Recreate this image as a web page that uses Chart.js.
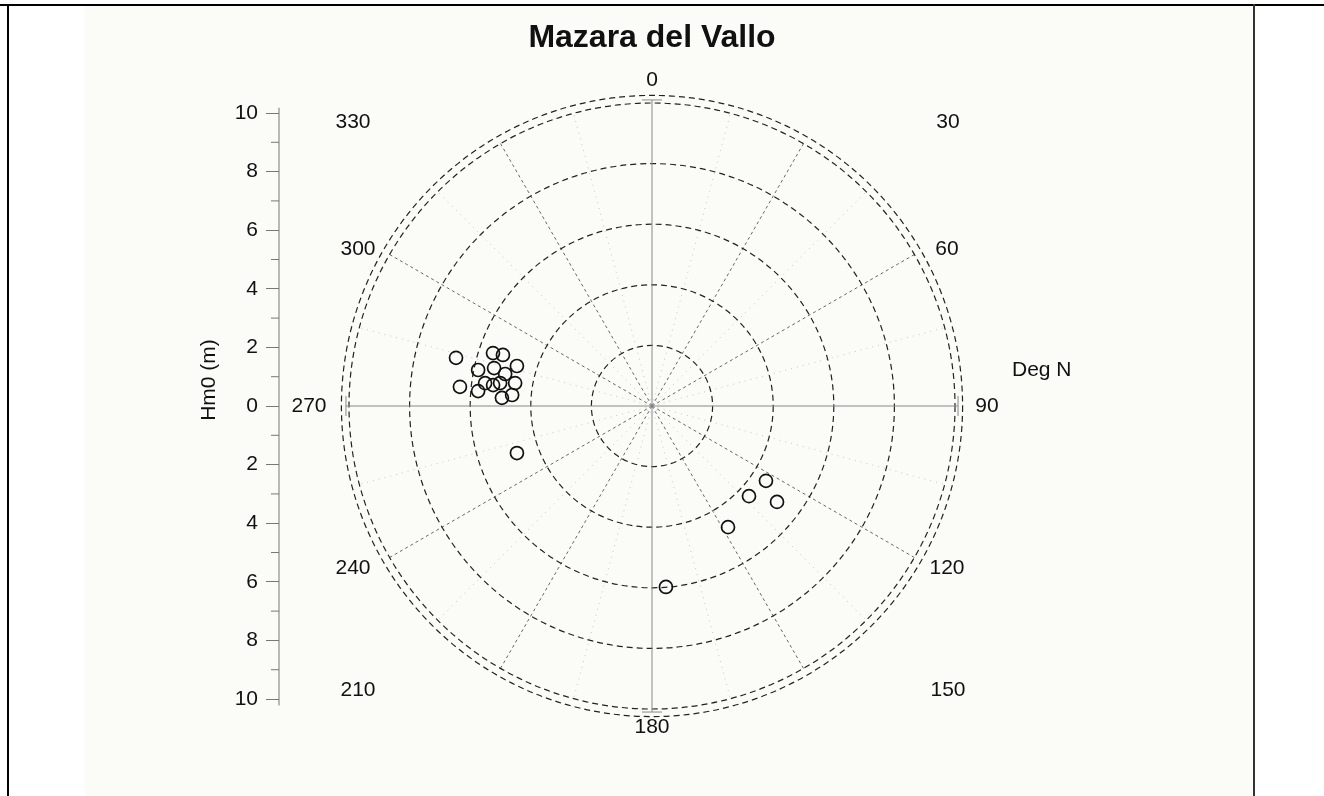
<!DOCTYPE html>
<html>
<head>
<meta charset="utf-8">
<title>Mazara del Vallo</title>
<script src="https://cdn.jsdelivr.net/npm/chart.js@4.4.0/dist/chart.umd.min.js"></script>
<style>
    html, body { margin: 0; padding: 0; background: #fff; }
    #wrap { position: relative; width: 1324px; height: 796px; overflow: hidden; }
    #panel { position: absolute; left: 85px; top: 6px; width: 1168px; height: 790px; background: #fbfcf8; }
    #myChart { position: absolute; left: 0; top: 0; }
    .rule { position: absolute; background: #000; }
</style>
</head>
<body>
<div id="wrap">
    <div id="panel"></div>
    <canvas id="myChart" width="1324" height="796"></canvas>
    <div class="rule" style="left:0;top:4px;width:1324px;height:2px"></div>
    <div class="rule" style="left:7px;top:4px;width:2px;height:792px"></div>
    <div class="rule" style="left:1253px;top:4px;width:2px;height:792px;background:#333"></div>
</div>
<script>
// wave direction (deg N) and significant height Hm0 (m)
const waveDir = [283.8, 275.7, 274.9, 288.4, 288.9, 281.7, 283.5, 282.3, 286.5, 277.5,
                 273.1, 274.5, 279.5, 277.8, 278.6, 250.8, 132.9, 123.3, 127.5, 147.9, 175.6];
const waveHm0 = [6.66, 6.37, 5.76, 5.53, 5.20, 5.86, 5.36, 4.96, 4.65, 5.29,
                 4.96, 4.63, 4.58, 5.56, 5.07, 4.72, 4.37, 4.50, 5.20, 4.72, 5.99];

const ringValues = [2, 4, 6, 8];
const outerRings = [10, 10.25];
const spokeAngles = [30, 60, 120, 150, 210, 240, 300, 330];
const angleLabels = ['0', '30', '60', '90', '120', '150', '180', '210', '240', '270', '300', '330'];

const FONT = '"Liberation Sans", Arial, sans-serif';

// pixel offsets of the direction labels from the centre (the source placed them on a box, not a circle)
const labelOffsets = [
    [0, -326], [296, -284], [295, -157], [335, 0], [295, 162], [296, 284],
    [0, 321], [-294, 284], [-299, 162], [-343, 0], [-294, -157], [-299, -284]
];

const points = waveDir.map((d, i) => {
    const a = d * Math.PI / 180;
    return { x: waveHm0[i] * Math.sin(a), y: waveHm0[i] * Math.cos(a) };
});

const polarGrid = {
    id: 'polarGrid',
    beforeDatasetsDraw(chart) {
        const ctx = chart.ctx;
        const xs = chart.scales.x;
        const ys = chart.scales.y;
        const cx = xs.getPixelForValue(0);
        const cy = ys.getPixelForValue(0);
        const rad = (v) => xs.getPixelForValue(v) - cx;
        const toXY = (deg, r) => {
            const a = deg * Math.PI / 180;
            return [xs.getPixelForValue(r * Math.sin(a)), ys.getPixelForValue(r * Math.cos(a))];
        };

        ctx.save();

        // faint dotted spokes halfway between the labelled ones
        ctx.strokeStyle = '#c4c4c4';
        ctx.lineWidth = 1;
        ctx.setLineDash([1, 5]);
        for (let d = 15; d < 360; d += 30) {
            const [ex, ey] = toXY(d, 10);
            ctx.beginPath();
            ctx.moveTo(cx, cy);
            ctx.lineTo(ex, ey);
            ctx.stroke();
        }

        // dashed spokes every 30 degrees
        ctx.strokeStyle = '#666';
        ctx.setLineDash([3, 3]);
        spokeAngles.forEach((d) => {
            const [ex, ey] = toXY(d, 10);
            ctx.beginPath();
            ctx.moveTo(cx, cy);
            ctx.lineTo(ex, ey);
            ctx.stroke();
        });

        // rings
        ctx.strokeStyle = '#222';
        ctx.lineWidth = 1.2;
        ctx.setLineDash([6, 4]);
        ringValues.concat(outerRings).forEach((r) => {
            ctx.beginPath();
            ctx.arc(cx, cy, rad(r), 0, Math.PI * 2);
            ctx.stroke();
        });

        // solid cross with end ticks
        ctx.setLineDash([]);
        ctx.strokeStyle = '#888';
        ctx.lineWidth = 1;
        const R = rad(10.1);
        ctx.beginPath();
        ctx.moveTo(cx - R, cy); ctx.lineTo(cx + R, cy);
        ctx.moveTo(cx, cy - R); ctx.lineTo(cx, cy + R);
        ctx.moveTo(cx - R, cy - 10); ctx.lineTo(cx - R, cy + 10);
        ctx.moveTo(cx + R, cy - 10); ctx.lineTo(cx + R, cy + 10);
        ctx.moveTo(cx - 10, cy - R); ctx.lineTo(cx + 10, cy - R);
        ctx.moveTo(cx - 10, cy + R); ctx.lineTo(cx + 10, cy + R);
        ctx.stroke();

        // direction labels
        ctx.fillStyle = '#111';
        ctx.font = '21px ' + FONT;
        ctx.textAlign = 'center';
        ctx.textBaseline = 'middle';
        angleLabels.forEach((t, i) => {
            ctx.fillText(t, cx + labelOffsets[i][0], cy + labelOffsets[i][1]);
        });

        ctx.textAlign = 'left';
        ctx.fillText('Deg N', 1012, 370);

        // title
        ctx.textAlign = 'center';
        ctx.textBaseline = 'alphabetic';
        ctx.font = 'bold 32px ' + FONT;
        ctx.fillText('Mazara del Vallo', cx, 47);

        // left axis: minor ticks, longer line and title
        const hs = chart.scales.h;
        const ax = hs.right;
        ctx.strokeStyle = '#777';
        ctx.beginPath();
        for (let v = -9; v <= 9; v += 2) {
            const py = hs.getPixelForValue(v);
            ctx.moveTo(ax - 8, py);
            ctx.lineTo(ax, py);
        }
        ctx.moveTo(ax, hs.getPixelForValue(10.18));
        ctx.lineTo(ax, hs.getPixelForValue(-10.22));
        ctx.stroke();

        ctx.translate(209, 380);
        ctx.rotate(-Math.PI / 2);
        ctx.font = '21px ' + FONT;
        ctx.textBaseline = 'middle';
        ctx.fillText('Hm0 (m)', 0, 0);

        ctx.restore();
    }
};

const canvasContext = document.getElementById('myChart').getContext('2d');

const myChart = new Chart(canvasContext, {
    type: 'scatter',
    data: {
        datasets: [
            {
                label: 'Hm0',
                data: points,
                pointRadius: 6.5,
                pointHoverRadius: 6.5,
                borderWidth: 1.7,
                borderColor: '#111',
                backgroundColor: 'rgba(0,0,0,0)',
                clip: false,
            }
        ],
    },
    options: {
        responsive: false,
        animation: false,
        devicePixelRatio: 1,
        layout: {
            padding: { left: 209, top: 113, right: 299, bottom: 97 }
        },
        plugins: {
            legend: { display: false },
            tooltip: { enabled: false }
        },
        scales: {
            x: { type: 'linear', display: false, min: -12.31, max: 12.31 },
            y: { type: 'linear', display: false, min: -9.67, max: 9.67 },
            h: {
                type: 'linear',
                position: 'left',
                min: -10,
                max: 10,
                afterFit: (scale) => { scale.width = 70; },
                ticks: {
                    stepSize: 1,
                    padding: 8,
                    color: '#111',
                    font: { family: FONT, size: 21 },
                    callback: (v) => (v % 2 === 0 ? String(Math.abs(v)) : '')
                },
                grid: {
                    drawOnChartArea: false,
                    tickLength: 13,
                    tickColor: (c) => (c.tick && c.tick.value % 2 === 0 ? '#777' : 'rgba(0,0,0,0)')
                },
                border: { display: false }
            }
        }
    },
    plugins: [polarGrid]
});
</script>
</body>
</html>
